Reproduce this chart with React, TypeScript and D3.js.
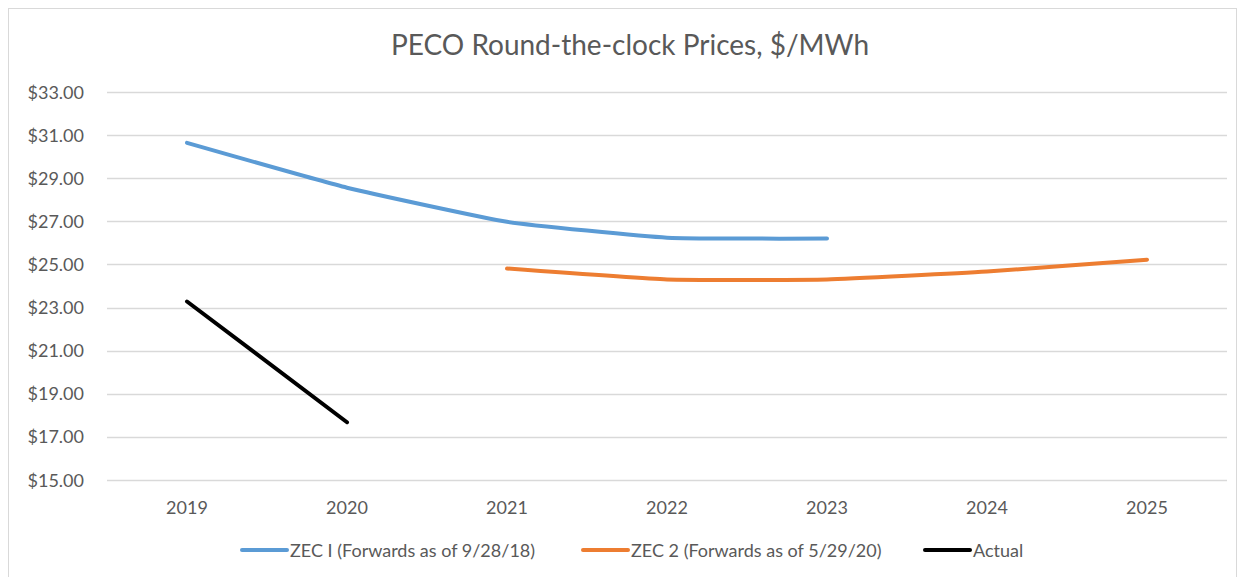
import React, { useRef, useEffect } from 'react';
import * as d3 from 'd3';

const years = ['2019', '2020', '2021', '2022', '2023', '2024', '2025'];
const yTicks = [15, 17, 19, 21, 23, 25, 27, 29, 31, 33];

const zec1Values: (number | null)[] = [30.64, 28.56, 26.98, 26.24, 26.2, null, null];
const zec2Values: (number | null)[] = [null, null, 24.81, 24.3, 24.3, 24.67, 25.22];
const actualValues: (number | null)[] = [23.28, 17.68, null, null, null, null, null];

const seriesNames = ['ZEC I (Forwards as of 9/28/18)', 'ZEC 2 (Forwards as of 5/29/20)', 'Actual'];
const seriesColors = ['#5b9bd5', '#ed7d31', '#000000'];

const FONT = 'Lato, "Open Sans", sans-serif';
const TEXT_COLOR = '#595959';

const App: React.FC = () => {
  const ref = useRef<SVGSVGElement | null>(null);

  useEffect(() => {
    if (!ref.current) return;
    const svg = d3.select(ref.current);
    svg.selectAll('*').remove();

    const width = 1244;
    const height = 577;
    const margin = { top: 92, right: 17, bottom: 97, left: 107 };

    // outer chart border
    svg.append('rect')
      .attr('x', 8.5).attr('y', 8.5)
      .attr('width', 1228).attr('height', 580)
      .attr('fill', 'white')
      .attr('stroke', '#d9d9d9');

    svg.append('text')
      .attr('x', 630).attr('y', 55)
      .attr('text-anchor', 'middle')
      .attr('font-family', FONT)
      .attr('font-size', 28)
      .attr('fill', TEXT_COLOR)
      .text('PECO Round-the-clock Prices, $/MWh');

    const x = d3.scaleBand<string>()
      .domain(years)
      .range([margin.left, width - margin.right]);

    const y = d3.scaleLinear()
      .domain([15, 33])
      .range([height - margin.bottom, margin.top]);

    // gridlines
    svg.append('g')
      .selectAll('line')
      .data(yTicks)
      .join('line')
      .attr('x1', margin.left)
      .attr('x2', width - margin.right)
      .attr('y1', d => Math.round(y(d)) + 0.5)
      .attr('y2', d => Math.round(y(d)) + 0.5)
      .attr('stroke', '#d9d9d9')
      .attr('stroke-width', 1.3);

    // y labels
    svg.append('g')
      .selectAll('text')
      .data(yTicks)
      .join('text')
      .attr('x', 84)
      .attr('y', d => y(d) + 6.5)
      .attr('text-anchor', 'end')
      .attr('font-family', FONT)
      .attr('font-size', 18)
      .attr('fill', TEXT_COLOR)
      .text(d => '$' + d.toFixed(2));

    // x labels
    svg.append('g')
      .selectAll('text')
      .data(years)
      .join('text')
      .attr('x', d => (x(d) ?? 0) + x.bandwidth() / 2)
      .attr('y', 514)
      .attr('text-anchor', 'middle')
      .attr('font-family', FONT)
      .attr('font-size', 18)
      .attr('fill', TEXT_COLOR)
      .text(d => d);

    // Excel-style light smoothing
    const line = d3.line<number | null>()
      .defined(d => d !== null)
      .x((_, i) => (x(years[i]) ?? 0) + x.bandwidth() / 2)
      .y(d => y(d as number))
      .curve(d3.curveCardinal.tension(0.6));

    [zec1Values, zec2Values, actualValues].forEach((vals, i) => {
      svg.append('path')
        .datum(vals)
        .attr('fill', 'none')
        .attr('stroke', seriesColors[i])
        .attr('stroke-width', 4)
        .attr('stroke-linecap', 'round')
        .attr('d', line);
    });

    // legend
    const legendX = [242, 583, 925];
    const legend = svg.append('g');
    seriesNames.forEach((name, i) => {
      legend.append('line')
        .attr('x1', legendX[i]).attr('x2', legendX[i] + 45)
        .attr('y1', 550).attr('y2', 550)
        .attr('stroke', seriesColors[i])
        .attr('stroke-width', 4)
        .attr('stroke-linecap', 'round');
      legend.append('text')
        .attr('x', legendX[i] + 48)
        .attr('y', 556.5)
        .attr('font-family', FONT)
        .attr('font-size', 18)
        .attr('fill', TEXT_COLOR)
        .text(name);
    });
  }, []);

  return (
    <svg
      ref={ref}
      width={1244}
      height={577}
      style={{ position: 'absolute', left: 0, top: 0, background: 'white' }}
    />
  );
};

export default App;
